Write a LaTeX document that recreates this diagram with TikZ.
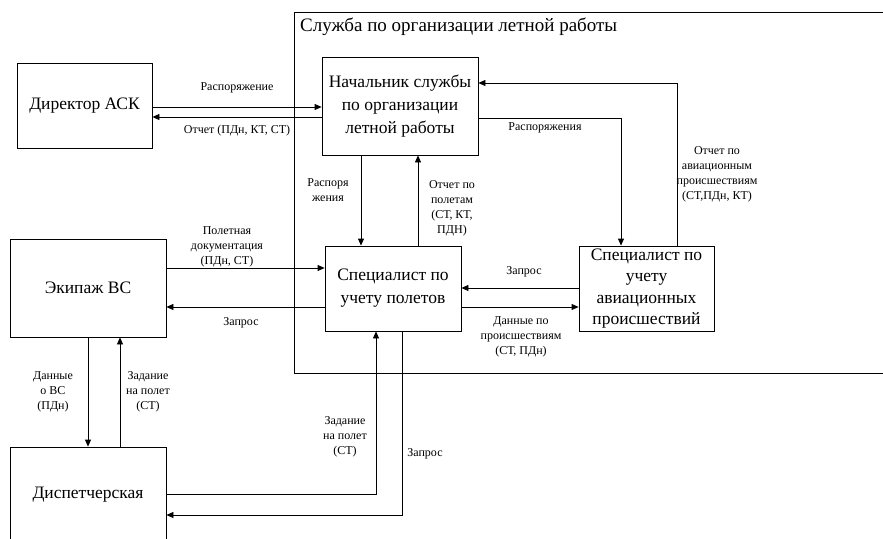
\documentclass[tikz,border=0pt]{standalone}
\usepackage{fontspec}
\setmainfont{Liberation Serif}
\newfontfamily\tnr{Liberation Serif}
\usetikzlibrary{arrows.meta}
\begin{document}
\begin{tikzpicture}[x=1pt,y=-1pt,
 box/.style={draw,line width=0.8pt,align=center,font=\tnr\fontsize{17.5}{23}\selectfont,inner sep=0pt},
 lbl/.style={align=center,font=\tnr\fontsize{12}{15}\selectfont,inner sep=0pt},
 arr/.style={-{Triangle[length=7pt,width=6pt]},line width=0.8pt},
 ln/.style={line width=0.8pt}]
\useasboundingbox (0,0) rectangle (883,538);
\clip (0,0) rectangle (883,538);
% outer frame
\draw[ln] (294,373) -- (294,12) -- (895,12) -- (895,373) -- cycle;
\node[anchor=west,inner sep=0pt,font=\tnr\fontsize{19}{22}\selectfont] (title) at (300,27) {Служба по организации летной работы};
% boxes
\node[box,minimum width=135,minimum height=85] (dir) at (84.5,105.5) {Директор АСК};
\node[box,minimum width=156,minimum height=98] (nach) at (400,106) {Начальник службы\\по организации\\летной работы};
\node[box,minimum width=156,minimum height=98] (ek) at (88,288) {Экипаж ВС};
\node[box,minimum width=136,minimum height=85] (sp) at (393,288.5) {Специалист по\\учету полетов};
\node[box,minimum width=135,minimum height=85,font=\tnr\fontsize{17.5}{21.5}\selectfont] (sa) at (646.5,288.5) {Специалист по\\учету\\авиационных\\происшествий};
\node[box,minimum width=156,minimum height=96] (disp) at (88,495) {Диспетчерская};
% connectors
\draw[arr] (dir.east |- 0,107) -- (nach.west |- 0,107);
\node[lbl] (l1) at (237,88) {Распоряжение};
\draw[arr] (nach.west |- 0,117) -- (dir.east |- 0,117);
\node[lbl] (l2) at (237,131) {Отчет (ПДн, КТ, СТ)};
\draw[arr] (nach.south -| 361,0) -- (sp.north -| 361,0);
\node[lbl] (l3) at (328,190.5) {Распоря\\жения};
\draw[arr] (sp.north -| 418,0) -- (nach.south -| 418,0);
\node[lbl] (l4) at (452,208.5) {Отчет по\\полетам\\(СТ, КТ,\\ПДН)};
\draw[arr] (nach.east |- 0,118) -- (621,118) -- (sa.north -| 621,0);
\node[lbl] (l5) at (545,128) {Распоряжения};
\draw[arr] (sa.north -| 677,0) -- (677,83) -- (nach.east |- 0,83);
\node[lbl] (l6) at (717,174) {Отчет по\\авиационным\\происшествиям\\(СТ,ПДн, КТ)};
\draw[arr] (ek.east |- 0,268) -- (sp.west |- 0,268);
\node[lbl] (l7) at (227,247) {Полетная\\документация\\(ПДн, СТ)};
\draw[arr] (sp.west |- 0,307) -- (ek.east |- 0,307);
\node[lbl] (l8) at (241,323) {Запрос};
\draw[arr] (sa.west |- 0,288) -- (sp.east |- 0,288);
\node[lbl] (l9) at (524,272) {Запрос};
\draw[arr] (sp.east |- 0,307) -- (sa.west |- 0,307);
\node[lbl] (l10) at (521,337) {Данные по\\происшествиям\\(СТ, ПДн)};
\draw[arr] (ek.south -| 88,0) -- (disp.north -| 88,0);
\node[lbl] (l11) at (53,392) {Данные\\о ВС\\(ПДн)};
\draw[arr] (disp.north -| 120,0) -- (ek.south -| 120,0);
\node[lbl] (l12) at (148,392) {Задание\\на полет\\(СТ)};
\draw[arr] (disp.east |- 0,494) -- (376,494) -- (sp.south -| 376,0);
\node[lbl] (l13) at (345,437) {Задание\\на полет\\(СТ)};
\draw[arr] (sp.south -| 402,0) -- (402,515) -- (disp.east |- 0,515);
\node[lbl] (l14) at (425,454) {Запрос};
\end{tikzpicture}
\end{document}
